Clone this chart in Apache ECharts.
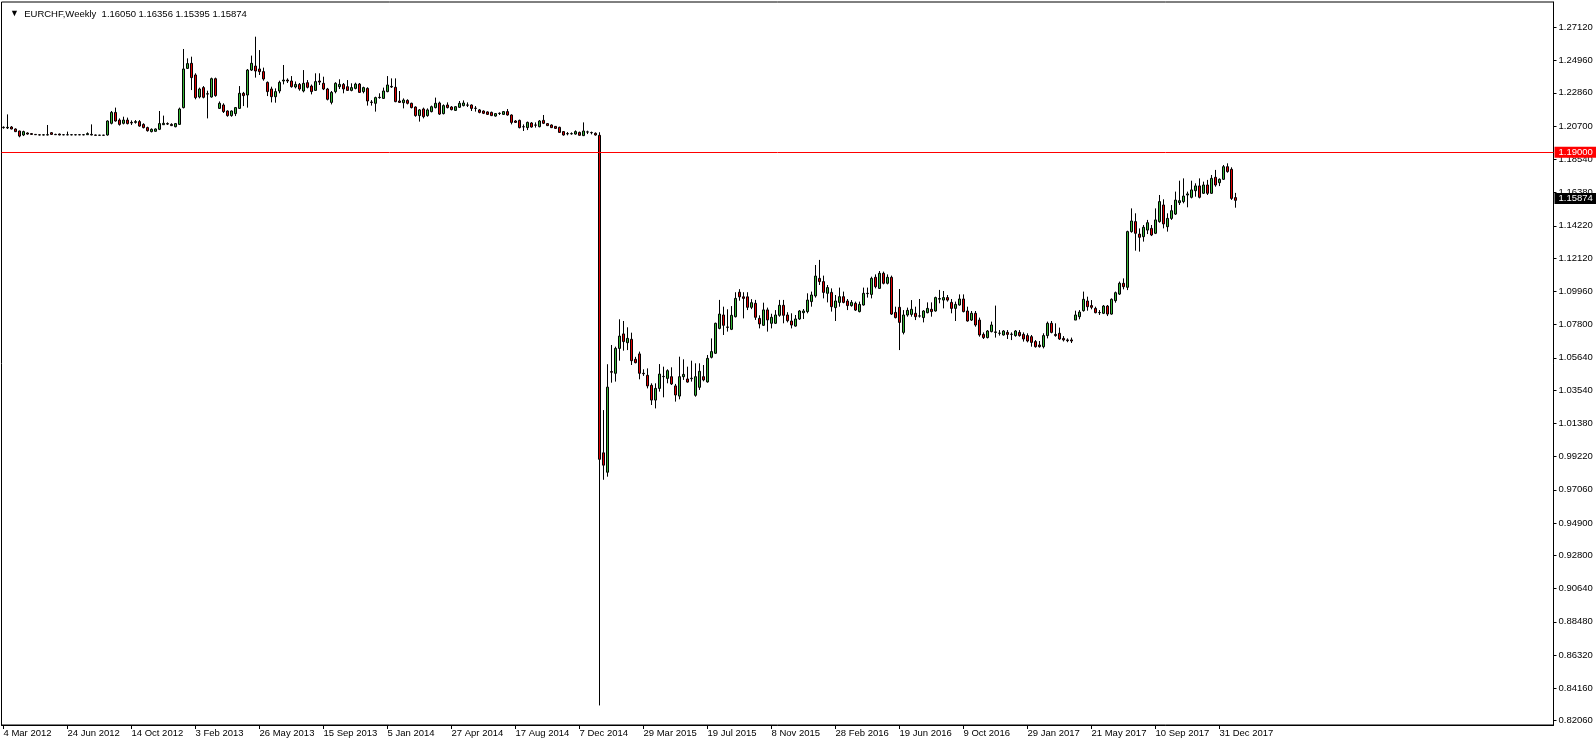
<!DOCTYPE html>
<html>
<head>
<meta charset="utf-8">
<script src="https://cdn.jsdelivr.net/npm/echarts@6/dist/echarts.min.js"></script>
<style>html,body{margin:0;padding:0;background:#fff}#chart{width:1596px;height:744px}</style>
</head>
<body>
<div id="chart"></div>
<script>
const symbolName = 'EURCHF';
const timeframe = 'Weekly';
const firstWeekUTC = [2012, 2, 4];
const totalSlots = 388;
const monthNames = ['Jan','Feb','Mar','Apr','May','Jun','Jul','Aug','Sep','Oct','Nov','Dec'];

const opens = [
1.2062,1.2058,1.2064,1.2051,1.2038,1.2012,1.2025,1.2021,1.2016,1.2013,1.2012,1.2012,1.2027,1.2016,1.2018,1.2014,1.2013,1.2014,1.2013,1.2014,
1.2013,1.2014,1.2016,1.2012,1.2011,1.2010,1.2012,1.2088,1.2159,1.2109,1.2088,1.2109,1.2094,1.2094,1.2099,1.2081,1.2060,1.2034,1.2036,1.2049,
1.2079,1.2086,1.2081,1.2066,1.2081,1.2190,1.2445,1.2478,1.2402,1.2259,1.2320,1.2280,1.2259,1.2378,1.2185,1.2207,1.2168,1.2138,1.2151,1.2185,
1.2283,1.2272,1.2434,1.2460,1.2441,1.2424,1.2354,1.2311,1.2261,1.2298,1.2363,1.2369,1.2363,1.2324,1.2341,1.2298,1.2352,1.2330,1.2302,1.2363,
1.2348,1.2311,1.2224,1.2294,1.2326,1.2341,1.2326,1.2302,1.2315,1.2343,1.2294,1.2315,1.2226,1.2218,1.2255,1.2250,1.2294,1.2328,1.2322,1.2233,
1.2222,1.2237,1.2218,1.2194,1.2138,1.2181,1.2138,1.2164,1.2190,1.2220,1.2151,1.2207,1.2194,1.2172,1.2192,1.2203,1.2207,1.2207,1.2186,1.2175,
1.2168,1.2162,1.2159,1.2135,1.2153,1.2146,1.2164,1.2142,1.2103,1.2107,1.2066,1.2060,1.2090,1.2077,1.2066,1.2107,1.2086,1.2077,1.2068,1.2062,
1.2034,1.2021,1.2020,1.2018,1.2029,1.2008,1.2032,1.2028,1.2023,1.2010,0.9946,0.9820,1.0474,1.0463,1.0625,1.0719,1.0662,1.0684,1.0554,1.0589,
1.0463,1.0450,1.0385,1.0289,1.0365,1.0441,1.0430,1.0441,1.0381,1.0315,1.0441,1.0426,1.0428,1.0320,1.0372,1.0441,1.0407,1.0567,1.0593,1.0755,
1.0842,1.0764,1.0749,1.0831,1.0990,1.0960,1.0960,1.0892,1.0918,1.0820,1.0775,1.0875,1.0788,1.0788,1.0840,1.0905,1.0842,1.0803,1.0770,1.0816,
1.0857,1.0864,1.0929,1.0966,1.1080,1.1059,1.0983,1.0989,1.0890,1.0924,1.0961,1.0933,1.0903,1.0918,1.0864,1.0907,1.0983,1.0976,1.1087,1.1015,
1.1113,1.1048,1.1087,1.0859,1.0892,1.0729,1.0842,1.0846,1.0853,1.0836,1.0825,1.0857,1.0879,1.0868,1.0945,1.0939,1.0955,1.0924,1.0885,1.0907,
1.0946,1.0868,1.0809,1.0853,1.0809,1.0716,1.0695,1.0734,1.0729,1.0723,1.0712,1.0729,1.0716,1.0708,1.0729,1.0716,1.0708,1.0701,1.0669,1.0647,
1.0636,1.0708,1.0788,1.0716,1.0723,1.0690,1.0680,1.0680,1.0809,1.0831,1.0870,1.0933,1.0903,1.0885,1.0857,1.0853,1.0900,1.0848,1.0935,1.0978,
1.1048,1.1022,1.1384,1.1449,1.1368,1.1351,1.1394,1.1405,1.1373,1.1449,1.1557,1.1416,1.1470,1.1498,1.1572,1.1579,1.1622,1.1607,1.1650,1.1681,
1.1633,1.1687,1.1633,1.1737,1.1702,1.1724,1.1806,1.1789,1.16050
];
const highs = [
1.2068,1.2146,1.2070,1.2055,1.2040,1.2040,1.2029,1.2025,1.2018,1.2016,1.2016,1.2077,1.2031,1.2020,1.2021,1.2016,1.2034,1.2018,1.2017,1.2018,
1.2017,1.2029,1.2081,1.2014,1.2013,1.2013,1.2107,1.2168,1.2190,1.2120,1.2131,1.2125,1.2107,1.2109,1.2109,1.2088,1.2066,1.2055,1.2055,1.2168,
1.2138,1.2094,1.2088,1.2090,1.2190,1.2571,1.2510,1.2521,1.2413,1.2320,1.2330,1.2300,1.2385,1.2385,1.2230,1.2218,1.2172,1.2172,1.2194,1.2330,
1.2292,1.2441,1.2528,1.2651,1.2564,1.2450,1.2360,1.2326,1.2315,1.2365,1.2467,1.2380,1.2395,1.2360,1.2350,1.2434,1.2369,1.2340,1.2413,1.2413,
1.2391,1.2318,1.2298,1.2355,1.2374,1.2350,1.2369,1.2348,1.2352,1.2350,1.2326,1.2322,1.2239,1.2261,1.2283,1.2320,1.2395,1.2380,1.2380,1.2298,
1.2250,1.2244,1.2222,1.2198,1.2181,1.2190,1.2185,1.2203,1.2255,1.2229,1.2211,1.2224,1.2200,1.2200,1.2233,1.2237,1.2224,1.2211,1.2200,1.2181,
1.2172,1.2166,1.2164,1.2155,1.2159,1.2168,1.2181,1.2146,1.2109,1.2112,1.2081,1.2099,1.2096,1.2094,1.2109,1.2142,1.2090,1.2081,1.2070,1.2066,
1.2036,1.2031,1.2029,1.2042,1.2034,1.2094,1.2040,1.2034,1.2029,1.2030,1.0224,1.0522,1.0647,1.0636,1.0814,1.0803,1.0762,1.0727,1.0570,1.0604,
1.0489,1.0495,1.0398,1.0398,1.0523,1.0506,1.0489,1.0502,1.0394,1.0571,1.0554,1.0506,1.0545,1.0528,1.0528,1.0517,1.0582,1.0690,1.0792,1.0940,
1.0896,1.0879,1.0900,1.0990,1.1010,1.0990,1.0990,1.0945,1.0940,1.0840,1.0922,1.0890,1.0850,1.0874,1.0940,1.0940,1.0860,1.0853,1.0842,1.0874,
1.0881,1.0983,1.0994,1.1167,1.1200,1.1098,1.1037,1.1015,1.0972,1.1020,1.0994,1.0946,1.0939,1.0929,1.0929,1.1020,1.1020,1.1091,1.1106,1.1128,
1.1124,1.1106,1.1098,1.0896,1.1011,1.0874,1.0890,1.0939,1.0896,1.0946,1.0874,1.0924,1.0924,1.0961,1.1005,1.0998,1.0972,1.0946,1.0929,1.0976,
1.0976,1.0896,1.0868,1.0868,1.0825,1.0729,1.0744,1.0799,1.0903,1.0744,1.0744,1.0744,1.0729,1.0744,1.0744,1.0729,1.0723,1.0712,1.0679,1.0673,
1.0723,1.0799,1.0803,1.0788,1.0760,1.0705,1.0690,1.0695,1.0870,1.0874,1.0994,1.0961,1.0939,1.0896,1.0874,1.0907,1.0907,1.0950,1.0994,1.1059,
1.1080,1.1390,1.1535,1.1503,1.1405,1.1427,1.1460,1.1427,1.1535,1.1622,1.1594,1.1503,1.1557,1.1644,1.1715,1.1730,1.1644,1.1715,1.1698,1.1730,
1.1709,1.1720,1.1752,1.1785,1.1730,1.1817,1.1828,1.1802,1.16356
];
const lows = [
1.2053,1.2051,1.2049,1.2031,1.1997,1.2005,1.2014,1.2012,1.2012,1.2010,1.2010,1.2010,1.2012,1.2012,1.2010,1.2010,1.2010,1.2010,1.2010,1.2011,
1.2010,1.2012,1.2010,1.2008,1.2008,1.2008,1.2008,1.2081,1.2099,1.2073,1.2081,1.2081,1.2077,1.2086,1.2066,1.2055,1.2034,1.2029,1.2034,1.2044,
1.2077,1.2077,1.2070,1.2062,1.2077,1.2185,1.2441,1.2304,1.2244,1.2250,1.2250,1.2120,1.2255,1.2261,1.2181,1.2155,1.2131,1.2131,1.2135,1.2181,
1.2200,1.2190,1.2428,1.2385,1.2402,1.2365,1.2265,1.2224,1.2222,1.2283,1.2341,1.2350,1.2320,1.2315,1.2300,1.2289,1.2315,1.2276,1.2298,1.2337,
1.2304,1.2237,1.2211,1.2283,1.2311,1.2283,1.2298,1.2296,1.2309,1.2285,1.2283,1.2203,1.2203,1.2164,1.2248,1.2246,1.2290,1.2318,1.2225,1.2220,
1.2185,1.2211,1.2185,1.2131,1.2099,1.2120,1.2131,1.2159,1.2185,1.2142,1.2146,1.2185,1.2172,1.2168,1.2188,1.2198,1.2194,1.2168,1.2164,1.2153,
1.2148,1.2142,1.2135,1.2131,1.2142,1.2142,1.2138,1.2081,1.2090,1.2055,1.2038,1.2044,1.2060,1.2060,1.2062,1.2083,1.2070,1.2057,1.2051,1.2025,
1.2008,1.2010,1.2014,1.2014,1.2008,1.2005,1.2018,1.2016,1.2008,0.8304,0.9771,0.9791,1.0402,1.0409,1.0545,1.0610,1.0614,1.0517,1.0528,1.0424,
1.0446,1.0365,1.0257,1.0235,1.0344,1.0307,1.0398,1.0387,1.0279,1.0294,1.0420,1.0402,1.0409,1.0311,1.0355,1.0411,1.0402,1.0560,1.0589,1.0749,
1.0712,1.0734,1.0744,1.0826,1.0935,1.0820,1.0874,1.0880,1.0810,1.0755,1.0771,1.0734,1.0755,1.0784,1.0831,1.0788,1.0794,1.0755,1.0766,1.0810,
1.0816,1.0853,1.0896,1.0955,1.1037,1.0950,1.0924,1.0864,1.0803,1.0896,1.0918,1.0874,1.0896,1.0868,1.0859,1.0903,1.0955,1.0950,1.1015,1.1011,
1.1041,1.1041,1.0842,1.0820,1.0614,1.0716,1.0831,1.0831,1.0809,1.0825,1.0794,1.0853,1.0831,1.0864,1.0918,1.0885,1.0929,1.0853,1.0803,1.0903,
1.0859,1.0799,1.0803,1.0766,1.0701,1.0686,1.0690,1.0729,1.0695,1.0708,1.0708,1.0686,1.0679,1.0701,1.0701,1.0669,1.0664,1.0636,1.0630,1.0630,
1.0625,1.0690,1.0723,1.0701,1.0680,1.0670,1.0665,1.0660,1.0809,1.0814,1.0864,1.0870,1.0879,1.0853,1.0842,1.0848,1.0835,1.0844,1.0922,1.0972,
1.1009,1.1004,1.1377,1.1260,1.1254,1.1319,1.1368,1.1355,1.1368,1.1442,1.1405,1.1384,1.1460,1.1492,1.1557,1.1568,1.1542,1.1600,1.1611,1.1600,
1.1629,1.1622,1.1629,1.1676,1.1680,1.1720,1.1767,1.1590,1.15395
];
const closes = [
1.2060,1.2062,1.2051,1.2034,1.2005,1.2034,1.2018,1.2016,1.2014,1.2012,1.2013,1.2014,1.2016,1.2014,1.2012,1.2013,1.2014,1.2013,1.2014,1.2013,
1.2014,1.2021,1.2012,1.2010,1.2010,1.2011,1.2103,1.2159,1.2103,1.2081,1.2109,1.2086,1.2090,1.2099,1.2070,1.2060,1.2040,1.2049,1.2051,1.2086,
1.2088,1.2083,1.2073,1.2086,1.2181,1.2441,1.2476,1.2385,1.2255,1.2311,1.2257,1.2278,1.2378,1.2268,1.2218,1.2164,1.2138,1.2168,1.2190,1.2283,
1.2268,1.2434,1.2478,1.2428,1.2424,1.2376,1.2294,1.2261,1.2294,1.2354,1.2369,1.2363,1.2326,1.2341,1.2311,1.2348,1.2322,1.2294,1.2359,1.2356,
1.2311,1.2244,1.2289,1.2348,1.2341,1.2311,1.2302,1.2320,1.2343,1.2289,1.2320,1.2233,1.2224,1.2255,1.2257,1.2298,1.2337,1.2324,1.2229,1.2224,
1.2239,1.2218,1.2190,1.2138,1.2175,1.2131,1.2175,1.2196,1.2218,1.2148,1.2203,1.2190,1.2177,1.2196,1.2218,1.2220,1.2206,1.2185,1.2185,1.2159,
1.2153,1.2146,1.2138,1.2151,1.2152,1.2164,1.2142,1.2094,1.2094,1.2060,1.2065,1.2094,1.2064,1.2076,1.2103,1.2088,1.2073,1.2060,1.2055,1.2029,
1.2012,1.2020,1.2021,1.2034,1.2010,1.2038,1.2031,1.2027,1.2012,0.9904,0.9866,1.0373,1.0470,1.0625,1.0705,1.0669,1.0690,1.0545,1.0532,1.0463,
1.0460,1.0381,1.0289,1.0365,1.0458,1.0443,1.0480,1.0394,1.0322,1.0441,1.0456,1.0406,1.0431,1.0441,1.0476,1.0420,1.0560,1.0604,1.0788,1.0848,
1.0775,1.0762,1.0840,1.0950,1.0960,1.0950,1.0892,1.0922,1.0827,1.0784,1.0875,1.0810,1.0827,1.0842,1.0905,1.0840,1.0805,1.0777,1.0816,1.0868,
1.0868,1.0939,1.0972,1.1095,1.1059,1.0989,1.1020,1.0896,1.0933,1.0961,1.0924,1.0903,1.0924,1.0874,1.0911,1.0983,1.0981,1.1080,1.1026,1.1113,
1.1048,1.1087,1.0848,1.0825,1.0794,1.0842,1.0872,1.0879,1.0831,1.0835,1.0868,1.0885,1.0864,1.0955,1.0949,1.0955,1.0939,1.0885,1.0911,1.0946,
1.0864,1.0803,1.0853,1.0777,1.0712,1.0695,1.0738,1.0777,1.0732,1.0724,1.0738,1.0716,1.0717,1.0738,1.0708,1.0686,1.0673,1.0664,1.0636,1.0636,
1.0708,1.0788,1.0729,1.0708,1.0686,1.0680,1.0675,1.0673,1.0842,1.0861,1.0944,1.0896,1.0892,1.0857,1.0858,1.0900,1.0848,1.0944,1.0987,1.1048,
1.1026,1.1384,1.1453,1.1373,1.1347,1.1412,1.1442,1.1362,1.1460,1.1579,1.1434,1.1470,1.1520,1.1589,1.1585,1.1615,1.1629,1.1655,1.1681,1.1607,
1.1687,1.1633,1.1730,1.1687,1.1724,1.1806,1.1774,1.1600,1.15874
];
const yTickValues = [1.27120,1.24960,1.22860,1.20700,1.18540,1.16380,1.14220,1.12120,1.09960,1.07800,1.05640,
  1.03540,1.01380,0.99220,0.97060,0.94900,0.92800,0.90640,0.88480,0.86320,0.84160,0.82060];
const levelPrice = 1.19000;
const xLabelEvery = 16;

// weekly category dates
const categories = [];
const startMs = Date.UTC(firstWeekUTC[0], firstWeekUTC[1], firstWeekUTC[2]);
for (let i = 0; i < totalSlots; i++) {
  const d = new Date(startMs + i * 7 * 86400000);
  categories.push(d.getUTCDate() + ' ' + monthNames[d.getUTCMonth()] + ' ' + d.getUTCFullYear());
}
const candles = opens.map((o, i) => [o, closes[i], lows[i], highs[i]]);
const n = opens.length;
const last = n - 1;
const showX = (idx) => idx < n && idx % xLabelEvery === 0;
const FONT = 'Liberation Sans';

const chart = echarts.init(document.getElementById('chart'), null, {renderer: 'canvas'});
chart.setOption({
  animation: false,
  backgroundColor: '#ffffff',
  textStyle: {fontFamily: FONT},
  title: {
    left: 5, top: 4,
    text: '{t|▼}  ' + symbolName + ',' + timeframe + '  ' +
      [opens[last], highs[last], lows[last], closes[last]].map(v => v.toFixed(5)).join(' '),
    textStyle: {fontSize: 9.5, fontWeight: 'normal', color: '#000', fontFamily: FONT,
      rich: {t: {fontSize: 9, color: '#000'}}}
  },
  grid: {left: 1.5, top: 2, width: 1552, height: 723, show: true, borderColor: '#000', borderWidth: 1, backgroundColor: '#fff'},
  xAxis: {
    type: 'category', data: categories, boundaryGap: true,
    axisLine: {show: true, lineStyle: {color: '#000', width: 1}},
    axisTick: {show: true, alignWithLabel: true, length: 4, interval: showX, lineStyle: {color: '#000'}},
    axisLabel: {interval: showX, align: 'left', margin: 3, color: '#000', fontSize: 9.5, fontFamily: FONT},
    splitLine: {show: false}
  },
  yAxis: {
    type: 'value', position: 'right', scale: true,
    min: 0.81769, max: 1.28765,
    axisLine: {show: true, lineStyle: {color: '#000', width: 1}},
    axisTick: {show: true, length: 3, customValues: yTickValues, lineStyle: {color: '#000'}},
    axisLabel: {customValues: yTickValues, formatter: v => v.toFixed(5), color: '#000', fontSize: 9.5, margin: 5, fontFamily: FONT},
    splitLine: {show: false}
  },
  series: [{
    type: 'candlestick',
    data: candles,
    barWidth: 2,
    itemStyle: {
      color: '#35b535', color0: '#e00000',
      borderColor: '#000', borderColor0: '#000', borderColorDoji: '#000', borderWidth: 1
    },
    markLine: {
      silent: true, animation: false, symbol: ['none', 'none'],
      data: [
        {yAxis: levelPrice, lineStyle: {color: '#ff0000', width: 1, type: 'solid'},
          label: {show: true, position: 'end', distance: 1, formatter: levelPrice.toFixed(5),
            backgroundColor: '#ff0000', color: '#fff', padding: [1, 5, 0, 4], fontSize: 9.5, fontFamily: FONT}},
        {yAxis: closes[last], lineStyle: {color: 'rgba(0,0,0,0)', width: 1, type: 'solid'},
          label: {show: true, position: 'end', distance: 1, formatter: closes[last].toFixed(5),
            backgroundColor: '#000', color: '#fff', padding: [1, 5, 0, 4], fontSize: 9.5, fontFamily: FONT}}
      ]
    }
  }]
});
</script>
</body>
</html>
